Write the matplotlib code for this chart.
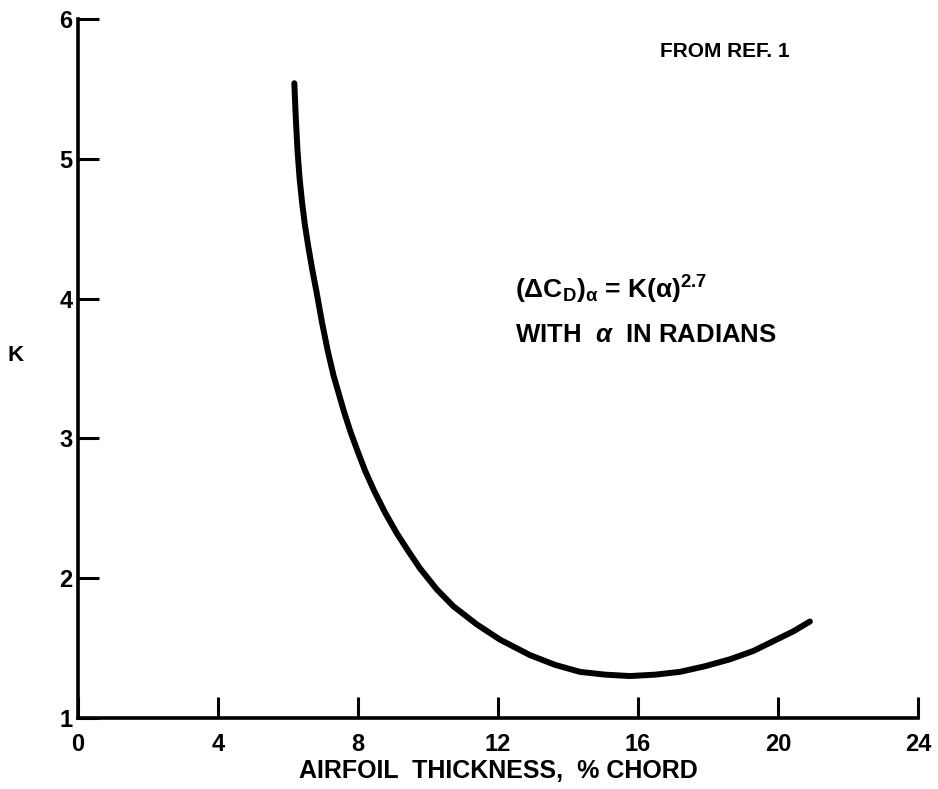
import matplotlib
matplotlib.use("Agg")
import matplotlib.pyplot as plt

plt.rcParams['font.family'] = ['Liberation Sans', 'DejaVu Sans']
plt.rcParams['font.weight'] = 'bold'
plt.rcParams['mathtext.fontset'] = 'custom'
plt.rcParams['mathtext.rm'] = 'Liberation Sans:bold'
plt.rcParams['mathtext.bf'] = 'Liberation Sans:bold'
plt.rcParams['mathtext.it'] = 'Liberation Sans:italic:bold'

# K factor vs. airfoil thickness (% chord)
thickness = [6.18, 6.22, 6.27, 6.33, 6.40, 6.48, 6.58, 6.69, 6.82, 6.97,
             7.14, 7.30, 7.45, 7.60, 7.78, 7.97, 8.20, 8.45, 8.77, 9.11,
             9.42, 9.77, 10.25, 10.72, 11.39, 12.06, 12.91, 13.63, 14.34, 15.06,
             15.77, 16.49, 17.20, 17.91, 18.63, 19.30, 19.87, 20.44, 20.91]
k_values = [5.54, 5.30, 5.06, 4.86, 4.69, 4.53, 4.37, 4.21, 4.04, 3.83,
            3.62, 3.45, 3.32, 3.19, 3.05, 2.92, 2.77, 2.63, 2.47, 2.32,
            2.20, 2.07, 1.92, 1.80, 1.67, 1.56, 1.45, 1.38, 1.33, 1.31,
            1.30, 1.31, 1.33, 1.37, 1.42, 1.48, 1.55, 1.62, 1.69]

x_ticks = [0, 4, 8, 12, 16, 20, 24]
y_ticks = [1, 2, 3, 4, 5, 6]

fig = plt.figure(figsize=(9.38, 7.89), dpi=100)
ax = fig.add_axes([0.0832, 0.09, 0.8955, 0.886])

ax.plot(thickness, k_values, color='black', linewidth=4.3,
        solid_capstyle='round', solid_joinstyle='round')

ax.set_xlim(0, 24)
ax.set_ylim(1, 6)
ax.set_xticks(x_ticks)
ax.set_yticks(y_ticks)

for side in ['top', 'right']:
    ax.spines[side].set_visible(False)
for side in ['left', 'bottom']:
    ax.spines[side].set_linewidth(2.6)
    ax.spines[side].set_capstyle('projecting')

ax.tick_params(axis='both', direction='in', length=15, width=2.2,
               labelsize=17)
ax.tick_params(axis='x', pad=11)
ax.tick_params(axis='y', pad=4)
for lbl in ax.get_xticklabels() + ax.get_yticklabels():
    lbl.set_fontweight('bold')

ax.set_xlabel('AIRFOIL  THICKNESS,  % CHORD', fontsize=18, fontweight='bold',
              labelpad=2)
ax.text(-0.074, 0.519, 'K', transform=ax.transAxes, fontsize=16,
        fontweight='bold', ha='center', va='center')

ax.text(20.34, 5.728, 'FROM REF. 1', ha='right', va='baseline',
        fontsize=15, fontweight='bold')
ax.text(12.49, 4.0,
        r'$\mathbf{(\Delta C_D)_{\alpha}}$ = $\mathbf{K(\alpha)^{2.7}}$',
        fontsize=19, fontweight='bold', ha='left', va='baseline')
ax.text(12.49, 3.69, r'WITH  $\alpha$  IN RADIANS', fontsize=18.5,
        fontweight='bold', ha='left', va='baseline')

fig.savefig('out.png', dpi=100)
